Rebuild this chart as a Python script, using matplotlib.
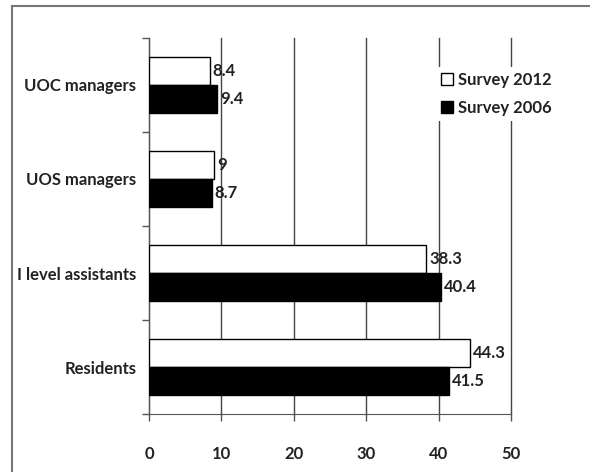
import matplotlib
matplotlib.use("Agg")
import matplotlib.pyplot as plt
import numpy as np
from matplotlib.lines import Line2D

categories = ["UOC managers", "UOS managers", "I level assistants", "Residents"]
survey_2012 = [8.4, 9, 38.3, 44.3]
survey_2006 = [9.4, 8.7, 40.4, 41.5]
label_2012 = ["8.4", "9", "38.3", "44.3"]
label_2006 = ["9.4", "8.7", "40.4", "41.5"]
xticks = [0, 10, 20, 30, 40, 50]

plt.rcParams['font.family'] = ['Lato', 'DejaVu Sans']
FW = "bold"
FS = 12
TC = "#222222"

fig = plt.figure(figsize=(5.9, 4.72), dpi=100)
ax = fig.add_axes([149/590, 1 - 414/472, (511 - 149)/590, (414 - 38)/472])

n = len(categories)
pos = np.arange(n)[::-1]  # top category at highest y
h = 0.295
ax.barh(pos + h/2, survey_2012, height=h, color="white", edgecolor="black", linewidth=1.0,
        label="Survey 2012", zorder=3)
ax.barh(pos - h/2, survey_2006, height=h, color="black", edgecolor="black", linewidth=1.0,
        label="Survey 2006", zorder=3)

for p, v, t in zip(pos, survey_2012, label_2012):
    ax.annotate(t, (v, p + h/2), xytext=(2, 0), textcoords="offset points",
                va="center", ha="left", fontsize=FS, fontweight=FW, color=TC)
for p, v, t in zip(pos, survey_2006, label_2006):
    ax.annotate(t, (v, p - h/2), xytext=(2, 0), textcoords="offset points",
                va="center", ha="left", fontsize=FS, fontweight=FW, color=TC)

ax.set_xlim(0, 50)
ax.set_ylim(-0.5, n - 0.5)
ax.set_xticks(xticks)
ax.set_xticklabels([str(x) for x in xticks], fontsize=FS, fontweight=FW, color=TC)
ax.set_yticks(pos)
ax.set_yticklabels(categories, fontsize=FS, fontweight=FW, color=TC)
ax.set_yticks(np.arange(n + 1) - 0.5, minor=True)
ax.tick_params(axis="y", which="major", length=0, pad=9)
ax.tick_params(axis="y", which="minor", length=5, width=1, color="#555")
ax.tick_params(axis="x", which="major", length=5, width=1, color="#555", pad=18)

for s in ["top", "right"]:
    ax.spines[s].set_visible(False)
ax.spines["left"].set_color("#555")
ax.spines["bottom"].set_color("#555")
ax.xaxis.grid(True, color="#444", linewidth=1.0, zorder=0)
for gl in ax.get_xgridlines():
    gl.set_clip_on(False)
ax.set_axisbelow(True)

leg = ax.legend(loc="upper left", bbox_to_anchor=((436 - 149)/362, 1 - (67 - 38)/376),
                frameon=True, edgecolor="none", facecolor="white", framealpha=1,
                prop={"size": FS, "weight": FW}, handlelength=0.7, handleheight=0.7,
                handletextpad=0.3, borderpad=0.3, labelspacing=0.7, borderaxespad=0)
for t in leg.get_texts():
    t.set_color(TC)

# outer frame (cropped at right and bottom)
fig.add_artist(Line2D([11.5/590, 11.5/590], [0, 1 - 6/472], transform=fig.transFigure,
                      color="#777", linewidth=1.5))
fig.add_artist(Line2D([11.5/590, 1], [1 - 6/472, 1 - 6/472], transform=fig.transFigure,
                      color="#777", linewidth=1.5))

fig.savefig("out.png", dpi=100)
